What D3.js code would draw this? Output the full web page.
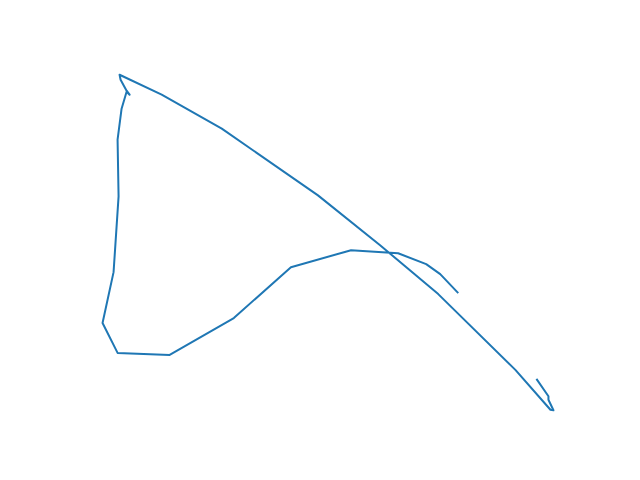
<!DOCTYPE html>
<html>
<head>
<meta charset="utf-8">
<script src="https://cdn.jsdelivr.net/npm/d3@7"></script>
<style>
html,body{margin:0;padding:0;background:#fff;}
</style>
</head>
<body>
<svg id="chart" width="640" height="480"></svg>
<script>
// Path vertices (x, y values; y increases upward)
const xValues = [458, 440, 426, 398, 351, 291, 234, 170, 118, 103, 114, 119, 118, 122, 127, 130, 127, 121, 120, 162, 222, 318, 380, 438, 515, 550, 553, 548, 548, 536];
const yValues = [187, 206, 216, 227, 230, 213, 162, 125, 127, 157, 208, 284, 341, 372, 389, 386, 390, 401, 406, 386, 352, 285, 235, 186, 110, 70, 69.5, 80, 83.5, 101];

const data = xValues.map((x, i) => ({x, y: yValues[i]}));

const plot = {left: 80, right: 576, top: 58, bottom: 427};
const pad = (ext) => { const d = ext[1] - ext[0]; return [ext[0] - d * 0.05, ext[1] + d * 0.05]; };

const x = d3.scaleLinear().domain(pad(d3.extent(xValues))).range([plot.left, plot.right]);
const y = d3.scaleLinear().domain(pad(d3.extent(yValues))).range([plot.bottom, plot.top]);

const svg = d3.select("#chart");
svg.append("path")
  .datum(data)
  .attr("fill", "none")
  .attr("stroke", "#1f77b4")
  .attr("stroke-width", 2)
  .attr("stroke-linejoin", "round")
  .attr("stroke-linecap", "butt")
  .attr("d", d3.line().x(d => x(d.x)).y(d => y(d.y)));
</script>
</body>
</html>
